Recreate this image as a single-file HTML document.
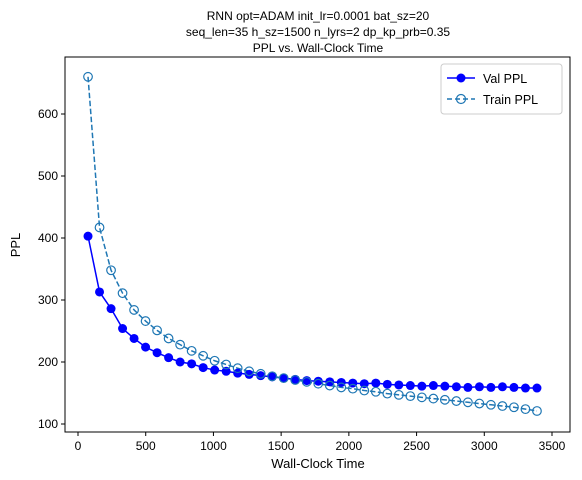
<!DOCTYPE html>
<html><head><meta charset="utf-8"><style>
html,body{margin:0;padding:0;background:#fff;}
svg{display:block;font-family:"Liberation Sans","DejaVu Sans",sans-serif;}
</style></head><body>
<svg id="chart" width="582" height="480" viewBox="0 0 582 480">
<text x="318" y="20" text-anchor="middle" font-size="12">RNN opt=ADAM init_lr=0.0001 bat_sz=20</text>
<text x="318" y="36" text-anchor="middle" font-size="12">seq_len=35 h_sz=1500 n_lyrs=2 dp_kp_prb=0.35</text>
<text x="318" y="52" text-anchor="middle" font-size="12">PPL vs. Wall-Clock Time</text>
<text x="318" y="468" text-anchor="middle" font-size="13">Wall-Clock Time</text>
<text x="20" y="245" text-anchor="middle" font-size="13" transform="rotate(-90 20 245)">PPL</text>
<g id="ticks"></g>
<g id="series"></g>
<rect x="65" y="57" width="505" height="375" fill="none" stroke="#000" stroke-width="1"/>
<g>
<rect x="441" y="64" width="121" height="50" rx="3" fill="#fff" stroke="#ccc"/>
<line x1="447" y1="78" x2="475" y2="78" stroke="#0000ff" stroke-width="1.5"/>
<circle cx="461" cy="78" r="4.5" fill="#0000ff"/>
<text x="483" y="83" font-size="12.5">Val PPL</text>
<line x1="447" y1="99" x2="475" y2="99" stroke="#1f77b4" stroke-width="1.5" stroke-dasharray="5,3"/>
<circle cx="461" cy="99" r="4.5" fill="none" stroke="#1f77b4" stroke-width="1.2"/>
<text x="483" y="104" font-size="12.5">Train PPL</text>
</g>
</svg>
<script>
const xTicks=[0,500,1000,1500,2000,2500,3000,3500];
const yTicks=[100,200,300,400,500,600];
const times=[];for(let i=0;i<40;i++)times.push(74+85*i);
const valPPL=[403,313,286,254,238,224,215,207,200,197,191,187,185,182,180,178,176,174,172,170,169,168,167,166,165,166,164,163,162,161,162,161,160,159,160,159,160,159,158,158];
const trainPPL=[660,417,348,311,284,266,251,238,228,218,210,202,196,190,185,181,177,174,171,168,165,162,159,157,154,152,149,147,145,143,141,139,137,135,133,131,129,127,124,121];
const NS="http://www.w3.org/2000/svg";
const X=v=>78+v*(474/3500);
const Y=v=>424-(v-100)*0.62;
function mk(t,a){const e=document.createElementNS(NS,t);for(const k in a)e.setAttribute(k,a[k]);return e;}
const tg=document.getElementById('ticks');
xTicks.forEach(t=>{
 const l=mk('line',{x1:X(t),x2:X(t),y1:432,y2:436,stroke:'#000'});
 
 
 tg.appendChild(l);
 const s=mk('text',{x:X(t),y:450,'text-anchor':'middle','font-size':12});s.textContent=t;
 
 
 tg.appendChild(s);
});
yTicks.forEach(t=>{
 const l=mk('line',{x1:61,x2:65,y1:Y(t),y2:Y(t),stroke:'#000'});
 
 
 tg.appendChild(l);
 const s=mk('text',{x:58,y:Y(t)+4,'text-anchor':'end','font-size':12});s.textContent=t;
 
 
 tg.appendChild(s);
});
const sg=document.getElementById('series');
const vp=mk('polyline',{points:times.map((t,i)=>X(t)+','+Y(valPPL[i])).join(' '),fill:'none',stroke:'#0000ff','stroke-width':1.5});


sg.appendChild(vp);
const tp=mk('polyline',{points:times.map((t,i)=>X(t)+','+Y(trainPPL[i])).join(' '),fill:'none',stroke:'#1f77b4','stroke-width':1.5,'stroke-dasharray':'5.5,2.5'});


sg.appendChild(tp);
times.forEach((t,i)=>{
 const c=mk('circle',{cx:X(t),cy:Y(valPPL[i]),r:4.5,fill:'#0000ff'});
 
 
 sg.appendChild(c);
});
times.forEach((t,i)=>{
 const c=mk('circle',{cx:X(t),cy:Y(trainPPL[i]),r:4.3,fill:'none',stroke:'#1f77b4','stroke-width':1.2});
 
 
 sg.appendChild(c);
});
</script>
</body></html>
